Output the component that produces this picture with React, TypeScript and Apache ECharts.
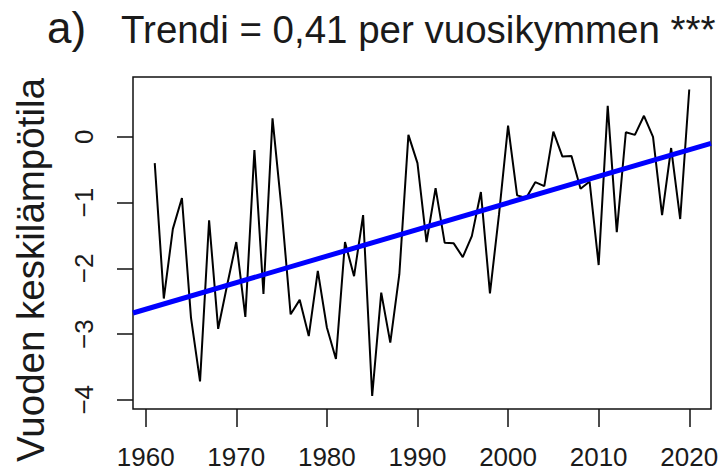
import React, { useEffect, useRef } from "react";
import * as echarts from "echarts";

const years: number[] = [];
for (let y = 1961; y <= 2020; y++) years.push(y);

const temps = [
  -0.40, -2.46, -1.40, -0.93, -2.75, -3.72, -1.27, -2.92, -2.25, -1.60,
  -2.74, -0.20, -2.39, 0.28, -1.10, -2.70, -2.48, -3.03, -2.04, -2.90,
  -3.38, -1.60, -2.12, -1.19, -3.94, -2.37, -3.13, -2.09, 0.03, -0.40,
  -1.60, -0.78, -1.61, -1.62, -1.83, -1.51, -0.84, -2.38, -1.18, 0.17,
  -0.89, -0.93, -0.69, -0.75, 0.08, -0.30, -0.29, -0.79, -0.68, -1.95,
  0.47, -1.45, 0.07, 0.03, 0.32, 0.00, -1.19, -0.17, -1.25, 0.72,
];

const xTicks = [1960, 1970, 1980, 1990, 2000, 2010, 2020];
const yTicks = [-4, -3, -2, -1, 0];

const xMin = 1958.6;
const xMax = 2022.4;
const yMin = -4.14;
const yMax = 0.91;

const trendStart = -2.68;
const trendEnd = -0.1;

const titlePrefix = "a)";
const titleText = "Trendi = 0,41 per vuosikymmen ***";
const yAxisTitle = "Vuoden keskilämpötila";

const FONT = "'Liberation Sans', Arial, sans-serif";

export default function App() {
  const ref = useRef<HTMLDivElement>(null);
  useEffect(() => {
    document.body.style.margin = "0";
    if (!ref.current) return;
    const chart = echarts.init(ref.current, null, { renderer: "svg" });
    const seriesData = years.map((y, i) => [y, temps[i]]);
    chart.setOption({
      animation: false,
      backgroundColor: "#ffffff",
      textStyle: { fontFamily: FONT },
      grid: {
        left: 133,
        right: 12,
        top: 77,
        bottom: 65,
        show: true,
        borderColor: "#111",
        borderWidth: 1.5,
        backgroundColor: "transparent",
      },
      xAxis: {
        type: "value",
        min: xMin,
        max: xMax,
        splitLine: { show: false },
        axisLine: { show: false, onZero: false },
        axisTick: {
          show: true,
          length: 18,
          inside: false,
          customValues: xTicks,
          lineStyle: { color: "#111", width: 1.5 },
        },
        axisLabel: {
          customValues: xTicks,
          fontSize: 26,
          color: "#1a1a1a",
          fontFamily: FONT,
          margin: 35,
          formatter: (v: number) => String(v),
        },
      },
      yAxis: {
        type: "value",
        min: yMin,
        max: yMax,
        splitLine: { show: false },
        axisLine: { show: false, onZero: false },
        axisTick: {
          show: true,
          length: 16,
          inside: false,
          customValues: yTicks,
          lineStyle: { color: "#111", width: 1.5 },
        },
        axisLabel: {
          customValues: yTicks,
          fontSize: 26,
          color: "#1a1a1a",
          fontFamily: FONT,
          rotate: 90,
          margin: 36,
          formatter: (v: number) => (v < 0 ? "\u2212" + Math.abs(v) : String(v)),
        },
      },
      graphic: [
        {
          type: "text",
          x: 47,
          y: 27,
          style: {
            text: titlePrefix,
            fontSize: 44,
            fontFamily: FONT,
            fill: "#1a1a1a",
            align: "left",
            verticalAlign: "middle",
          },
        },
        {
          type: "text",
          x: 121,
          y: 29,
          style: {
            text: titleText,
            fontSize: 38.5,
            fontFamily: FONT,
            fill: "#1a1a1a",
            align: "left",
            verticalAlign: "middle",
          },
        },
        {
          type: "text",
          x: 30,
          y: 270,
          rotation: Math.PI / 2,
          style: {
            text: yAxisTitle,
            fontSize: 38.5,
            fontFamily: FONT,
            fill: "#1a1a1a",
            align: "center",
            verticalAlign: "middle",
          },
        },
      ],
      series: [
        {
          type: "line",
          data: seriesData,
          symbol: "none",
          lineStyle: { color: "#000", width: 2 },
          z: 2,
        },
        {
          type: "line",
          data: [
            [xMin, trendStart],
            [xMax, trendEnd],
          ],
          symbol: "none",
          lineStyle: { color: "#0000ff", width: 5 },
          z: 3,
        },
      ],
    });
    return () => chart.dispose();
  }, []);
  return <div ref={ref} style={{ width: 723, height: 474 }} />;
}
